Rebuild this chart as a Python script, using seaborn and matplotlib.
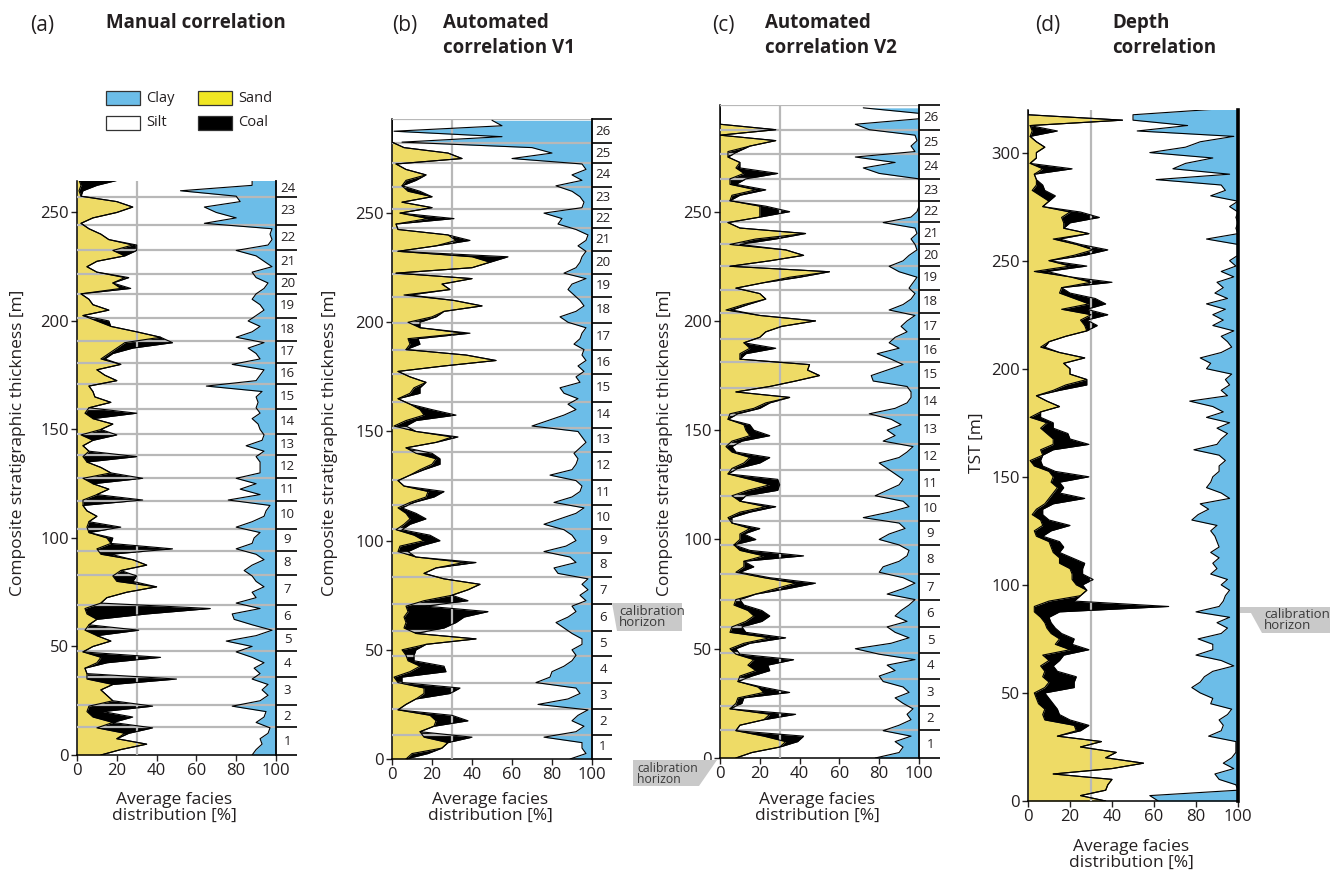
import numpy as np
import pandas as pd
import matplotlib
matplotlib.use("Agg")
import matplotlib.pyplot as plt
from matplotlib.patches import Polygon, Rectangle
import seaborn as sns

# ---------------- data (percent per sample, sampled every 2.5 m) ----------------
STEP = 2.5

# (a) Manual correlation
sand_a = [12,22,35,20,24,10,18,8,5,6, 18,15,12,18,5,5,4,10,12,3, 8,17,10,4,6,10,5,4,12,15,
          25,40,20,18,22,35,28,12,10,17, 15,6,5,6,10,5,3,3,10,16, 8,3,17,12,5,3,6,3,8,2,
          12,18,8,4,6,17,9,8,6,20, 14,10,22,12,16,20,24,42,30,17, 10,3,16,8,6,2,22,18,24,10,
          5,10,24,18,28,16,12,6,2,8, 20,28,20,2,1,2,1]
coal_a = [0,0,0,0,2,28,0,20,8,32, 0,0,0,0,45,0,0,5,30,0, 0,0,0,27,0,0,30,63,0,0,
          0,0,8,12,0,0,0,5,38,0, 3,0,17,0,0,0,0,30,0,0, 0,30,0,0,0,27,0,0,0,18,
          0,0,0,26,0,0,0,0,0,0, 0,0,0,2,2,8,24,0,0,0, 6,0,0,0,0,0,5,0,2,0,
          0,0,0,12,2,0,0,0,0,0, 0,0,0,0,2,8,20]
clay_a = [12,10,7,8,4,3,10,6,5,22, 8,4,7,4,12,8,11,6,12,20, 12,25,10,2,12,21,22,8,20,10,
          12,6,10,12,16,12,6,10,20,12, 11,8,20,12,6,5,3,24,8,18, 10,20,8,8,8,10,6,15,7,6,
          8,9,12,8,10,9,10,7,35,10, 8,6,22,8,10,14,6,20,12,8, 14,10,6,8,12,10,6,4,10,12,
          2,6,10,20,4,2,3,2,36,20, 30,36,18,20,48,12,12]
units_a = [0, 12.7, 23.0, 36.0, 48.0, 58.1, 69.3, 83.1, 94.0, 104.3, 117.0, 127.6, 138.1,
           147.8, 159.3, 170.9, 180.7, 190.9, 201.4, 212.5, 221.7, 232.8, 244.3, 257.3, 264.5]

# (b) Automated correlation V1
sand_b = [7,10,25,28,16,14,21,22,19,3, 7,12,16,16,3,1,9,14,8,7, 5,17,42,12,6,7,6,8,7,16,
          30,38,44,26,16,22,36,12,3,4, 16,11,2,6,9,7,3,9,17,18, 6,3,9,14,20,22,
          12, 7,22,30,12,1,7,16,14,9, 3,9,11,17,9,3,26,52,37,7, 9,8,36,14,8,20,26,45,31,6,
          29,25,40,2,40,49,40,3,22,32, 28,3,2,18,4,20,5,20,8,5, 7,17,7,2,35,28,6, 0,0,0,0,0]
coal_b = [0,8,0,0,24,0,0,16,11,0, 0,0,13,18,2,4,18,12,3,4, 7,0,0,0,20,25,30,40,10,22,
          0,0,0,0,0,0,6,0,5,10, 8,8,3,3,8,5,2,2,4,8, 0,0,0,2,4,2,
          8, 0,0,3,0,6,5,16,6,0, 0,5,3,0,0,0,0,0,0,0, 5,5,3,0,6,2,0,0,0,3,
          0,0,0,0,0,0,18,0,0,7, 0,0,0,13,0,0,0,0,6,0, 5,0,0,0,0,0,0, 0,0,0,0,0]
clay_b = [11,3,5,5,24,8,4,10,7,2, 27,12,6,8,28,21,20,14,10,8, 10,5,5,10,14,18,12,8,10,3,
          6,2,5,2,17,19,8,11,24,13, 8,10,14,24,16,8,4,19,10,6, 5,8,21,10,8,7,
          9, 6,3,5,7,30,22,14,8,12, 7,14,16,6,8,4,7,3,5,4, 9,6,5,3,12,16,8,4,6,9,
          12,10,3,14,8,6,5,3,7,3, 2,8,17,15,24,5,4,6,10,18, 5,10,3,5,40,20,30, 95,45,99,45,50]
units_b = [0, 11.1, 23.0, 34.9, 47.2, 58.6, 71.1, 83.3, 94.5, 105.2, 116.4, 127.9, 140.5,
           151.7, 163.7, 176.2, 187.3, 199.7, 211.7, 222.3, 232.6, 243.1, 252.0, 262.0,
           273.0, 282.0, 293.0]

# (c) Automated correlation V2
sand_c = [8,16,30,33,22,8,10,22,25,5, 8,9,22,19,9,10,18,14,17,8, 5,12,25,5,6,13,17,14,7,8,
          18,28,38,22,8,12,12,22,10,7, 10,10,15,6,4,10,23,10,6,14, 25,15,4,6,12,15,6,3,
          6,15,13,12,4,5,17,23,35,8, 25,38,50,44,45,10,10,15,12,20, 23,31,48,20,3,12,23,20,8,22,
          35,55,5,25,42,33,5,18,43,10, 4,20,20,20,5,6,18,5,5,12, 8,10,4,4,15,28,0, 28,0,0,0,0]
coal_c = [0,0,0,6,20,0,0,0,13,0, 3,3,13,2,0,6,7,10,20,2, 3,3,8,8,5,8,8,7,5,2,
          0,6,10,3,2,5,0,20,5,0, 8,2,5,0,2,5,5,0,7,15, 5,14,0,3,8,10,2,3,
          5,10,4,3,0,4,3,2,0,0, 0,0,0,0,0,0,3,13,0,0, 0,0,0,0,3,2,0,0,0,0,
          5,0,0,0,0,0,5,10,0,0, 0,0,15,3,0,4,5,3,8,17, 2,0,0,5,0,0,0, 0,0,0,0,0]
clay_c = [22,10,8,12,4,18,10,4,6,3, 8,12,5,8,18,20,12,16,2,20, 32,14,5,12,16,6,12,9,5,2,
          16,8,2,8,20,18,10,6,5,10, 20,15,7,10,28,15,5,8,22,16, 10,8,12,16,20,10,6,3,
          18,12,16,9,14,25,12,6,4,4, 6,23,24,16,8,14,21,10,15,12, 6,9,6,2,15,8,4,2,5,3,
          1,10,15,8,5,1,2,4,1,2, 18,4,1,0,0,0,0,0,0,20, 28,12,32,2,4,1,2, 25,32,0,0,28]
units_c = [0, 12.8, 23.8, 36.2, 48.1, 59.8, 72.1, 84.0, 97.4, 108.4, 119.8, 131.8, 143.8,
           157.0, 169.4, 181.3, 191.9, 203.4, 214.2, 225.2, 235.0, 245.4, 254.7, 265.1,
           276.3, 287.2, 298.8]

# (d) Depth correlation
sand_d = [37,25,37,38,40,12,40,55,37,42, 25,35,14,23,22,8,7,8,5,4, 3,8,10,7,8,6,10,7,20,13,
          15,11,9,8,6,3,3,10,25,28, 23,21,21,20,15,15,12,11,10,4, 3,7,6,2,4,8,10,12,14,11,
          12,10,3, 1,7,6,12,12,9,6,9,1,6, 15,9,4,12,18,28,20,20,17,27, 15,6,10,18,28,27,25,30,16,29,
          22,15,16,30,20,3,20,10,22,31, 23,12,29,17,17,16,20,7,10,6, 2,4,4,3,7,1,4,4,8,4,
          1,2,1,45,0,0]
coal_d = [0,0,0,0,0,0,0,0,0,0, 0,0,0,2,7,12,8,6,7,6, 5,14,12,16,6,6,5,10,9,8,
          7,5,4,3,4,12,64,12,0,0, 3,10,5,6,12,6,3,6,5,3, 8,13,4,5,3,4,17,3,3,4,
          17,3,4, 5,0,6,17,8,10,6,3,5,0, 0,0,0,3,10,0,0,0,0,0, 0,2,0,0,0,6,3,8,12,8,
          10,5,0,10,0,6,8,0,5,7, 2,3,0,0,3,18,5,0,0,7, 6,3,0,0,14,0,0,0,0,0,
          0,12,0,0,0,0]
clay_d = [38,42,0,1,9,11,2,7,3,1, 1,1,14,8,7,9,5,3,13,12, 18,22,18,16,12,2,8,20,12,12,
          19,8,5,10,4,20,9,7,6,4, 8,5,13,10,12,9,13,9,10,11, 13,10,22,19,14,18,4,8,15,13,
          12,9,9, 6,9,21,10,8,5,10,4,15,7, 12,23,5,8,4,6,3,15,13,18, 8,3,5,8,2,12,7,12,6,15,
          5,11,7,10,2,8,1,4,0,0, 0,15,0,1,0,1,0,4,0,13, 6,8,39,4,31,25,12,42,25,18,
          2,48,24,50,50,12]

titles = ["Manual correlation", "Automated\ncorrelation V1", "Automated\ncorrelation V2", "Depth\ncorrelation"]
letters = ["(a)", "(b)", "(c)", "(d)"]
ylabels = ["Composite stratigraphic thickness [m]"] * 3 + ["TST [m]"]
xlabel = "Average facies\ndistribution [%]"
legend_labels = ["Clay", "Silt", "Sand", "Coal"]
callout_text = "calibration\nhorizon"

# ---------------- style ----------------
sns.set_style("ticks")
plt.rcParams["font.family"] = ["Open Sans", "DejaVu Sans"]
plt.rcParams["text.color"] = "#231F20"
plt.rcParams["axes.labelcolor"] = "#231F20"
plt.rcParams["xtick.color"] = "#231F20"
plt.rcParams["ytick.color"] = "#231F20"

SAND = "#EEDB66"
SAND_LEG = "#F0E623"
BLUE = "#6CBDE8"
GREY = "#B8B8B8"
CALLOUT = "#C9C9C9"

W, H = 1340, 874
fig = plt.figure(figsize=(W / 100, H / 100), dpi=100)


def frect(x0, y0, x1, y1):
    return [x0 / W, 1 - y1 / H, (x1 - x0) / W, (y1 - y0) / H]


def fpt(x, y):
    return (x / W, 1 - y / H)


panels = [
    dict(sand=sand_a, coal=coal_a, clay=clay_a, units=units_a, top=264.5, box=(77, 181, 276, 755),
         strip=21, top_line=False, yticks=range(0, 251, 50), ylab_x=18, xlab_y=808),
    dict(sand=sand_b, coal=coal_b, clay=clay_b, units=units_b, top=293.1, box=(392, 119, 592, 759),
         strip=20, top_line=True, yticks=range(0, 251, 50), ylab_x=330, xlab_y=808),
    dict(sand=sand_c, coal=coal_c, clay=clay_c, units=units_c, top=298.8, box=(720, 105, 919, 758),
         strip=21, top_line=True, yticks=range(0, 251, 50), ylab_x=665, xlab_y=808),
    dict(sand=sand_d, coal=coal_d, clay=clay_d, units=None, top=319.7, box=(1028, 110, 1238, 801),
         strip=0, top_line=False, yticks=range(0, 301, 50), ylab_x=977, xlab_y=855),
]

for i, p in enumerate(panels):
    x0, y0, x1, y1 = p["box"]
    ax = fig.add_axes(frect(x0, y0, x1, y1))
    n = len(p["sand"])
    df = pd.DataFrame({
        "depth": [k * STEP for k in range(n)],
        "sand": p["sand"], "coal": p["coal"], "clay": p["clay"],
    })
    df["sandcoal"] = df["sand"] + df["coal"]
    df["clayedge"] = 100 - df["clay"]

    ax.fill_betweenx(df["depth"], 0, df["sand"], color=SAND, lw=0, zorder=1)
    ax.fill_betweenx(df["depth"], df["sand"], df["sandcoal"], color="black", lw=0, zorder=1)
    ax.fill_betweenx(df["depth"], df["clayedge"], 100, color=BLUE, lw=0, zorder=1)

    for col in ["sand", "sandcoal", "clayedge"]:
        sns.lineplot(data=df, x=col, y="depth", orient="y", sort=False, estimator=None,
                     color="black", lw=0.8, ax=ax, legend=False, zorder=4)

    # grey reference lines
    ax.axvline(30, color=GREY, lw=1.6, zorder=3)
    if p["units"] is not None:
        ub = p["units"]
        lines = ub[1:] if p["top_line"] else ub[1:-1]
        for b in lines:
            ax.axhline(b, color=GREY, lw=1.6, zorder=3)

    ax.set_xlim(0, 100)
    ax.set_ylim(0, p["top"])
    ax.set_xticks(range(0, 101, 20))
    ax.set_yticks(list(p["yticks"]))
    ax.set_xlabel("")
    ax.set_ylabel("")
    ax.tick_params(axis="both", labelsize=12, length=4, width=1, direction="out", pad=2)
    ax.spines["top"].set_visible(False)
    for s in ["left", "bottom"]:
        ax.spines[s].set_linewidth(1.1)
        ax.spines[s].set_color("black")
    ax.spines["right"].set_visible(True)
    ax.spines["right"].set_color("black")
    ax.spines["right"].set_linewidth(2.6 if p["units"] is None else 1.3)
    ax.spines["right"].set_zorder(6)

    # unit strip
    if p["units"] is not None:
        sax = fig.add_axes(frect(x1, y0, x1 + p["strip"], y1))
        sax.set_xlim(0, 1)
        sax.set_ylim(0, p["top"])
        sax.axis("off")
        ub = p["units"]
        lines = ub if p["top_line"] else ub[:-1]
        for b in lines:
            sax.plot([0, 1], [b, b], color="black", lw=1.2, clip_on=False, solid_capstyle="butt")
        for k in range(len(ub) - 1):
            mid = 0.5 * (ub[k] + ub[k + 1])
            sax.text(0.55, mid, str(k + 1), ha="center", va="center", fontsize=9.5)

    # labels
    yc = 443
    fig.text(*fpt(p["ylab_x"], yc), ylabels[i], rotation=90, ha="center", va="center", fontsize=12.5)
    fig.text(*fpt((x0 + x1) / 2 - 2, p["xlab_y"]), xlabel, ha="center", va="center",
             fontsize=12.5, linespacing=1.0)

# titles
title_pos = [(42, 106), (405, 443), (723, 765), (1048, 1112)]
for i, (lx, tx) in enumerate(title_pos):
    fig.text(*fpt(lx, 25), letters[i], ha="center", va="center", fontsize=15)
    fig.text(*fpt(tx, 13), titles[i], ha="left", va="top", fontsize=13.5,
             fontweight="bold", linespacing=1.35)

# legend (manual)
leg = [((106, 91), BLUE, "Clay"), ((106, 116), "white", "Silt"),
       ((198, 91), SAND_LEG, "Sand"), ((198, 116), "black", "Coal")]
for (lx, ly), c, lab in leg:
    r = Rectangle(fpt(lx, ly + 14), 34 / W, 14 / H, transform=fig.transFigure,
                  facecolor=c, edgecolor="#333333", lw=0.9)
    fig.patches.append(r)
    fig.text(*fpt(lx + 40, ly + 7), lab, ha="left", va="center", fontsize=10.5)

# calibration horizon call-outs
callouts = [
    ([(612, 603), (682, 603), (682, 631), (617, 631)], (619, 617), 9.5),
    ([(633, 760), (717, 760), (699, 786), (633, 786)], (637, 774), 8.8),
    ([(1240, 607), (1330, 607), (1330, 633), (1262, 633), (1251, 613), (1240, 613)], (1264, 620), 9.5),
]
for poly, (tx, ty), fs in callouts:
    pg = Polygon([fpt(x, y) for x, y in poly], closed=True, transform=fig.transFigure,
                 facecolor=CALLOUT, edgecolor="none", zorder=0)
    fig.patches.append(pg)
    fig.text(*fpt(tx, ty), callout_text, ha="left", va="center", fontsize=fs,
             linespacing=0.85, color="#3a3a3a")

fig.savefig("out.png", dpi=100, facecolor="white")
